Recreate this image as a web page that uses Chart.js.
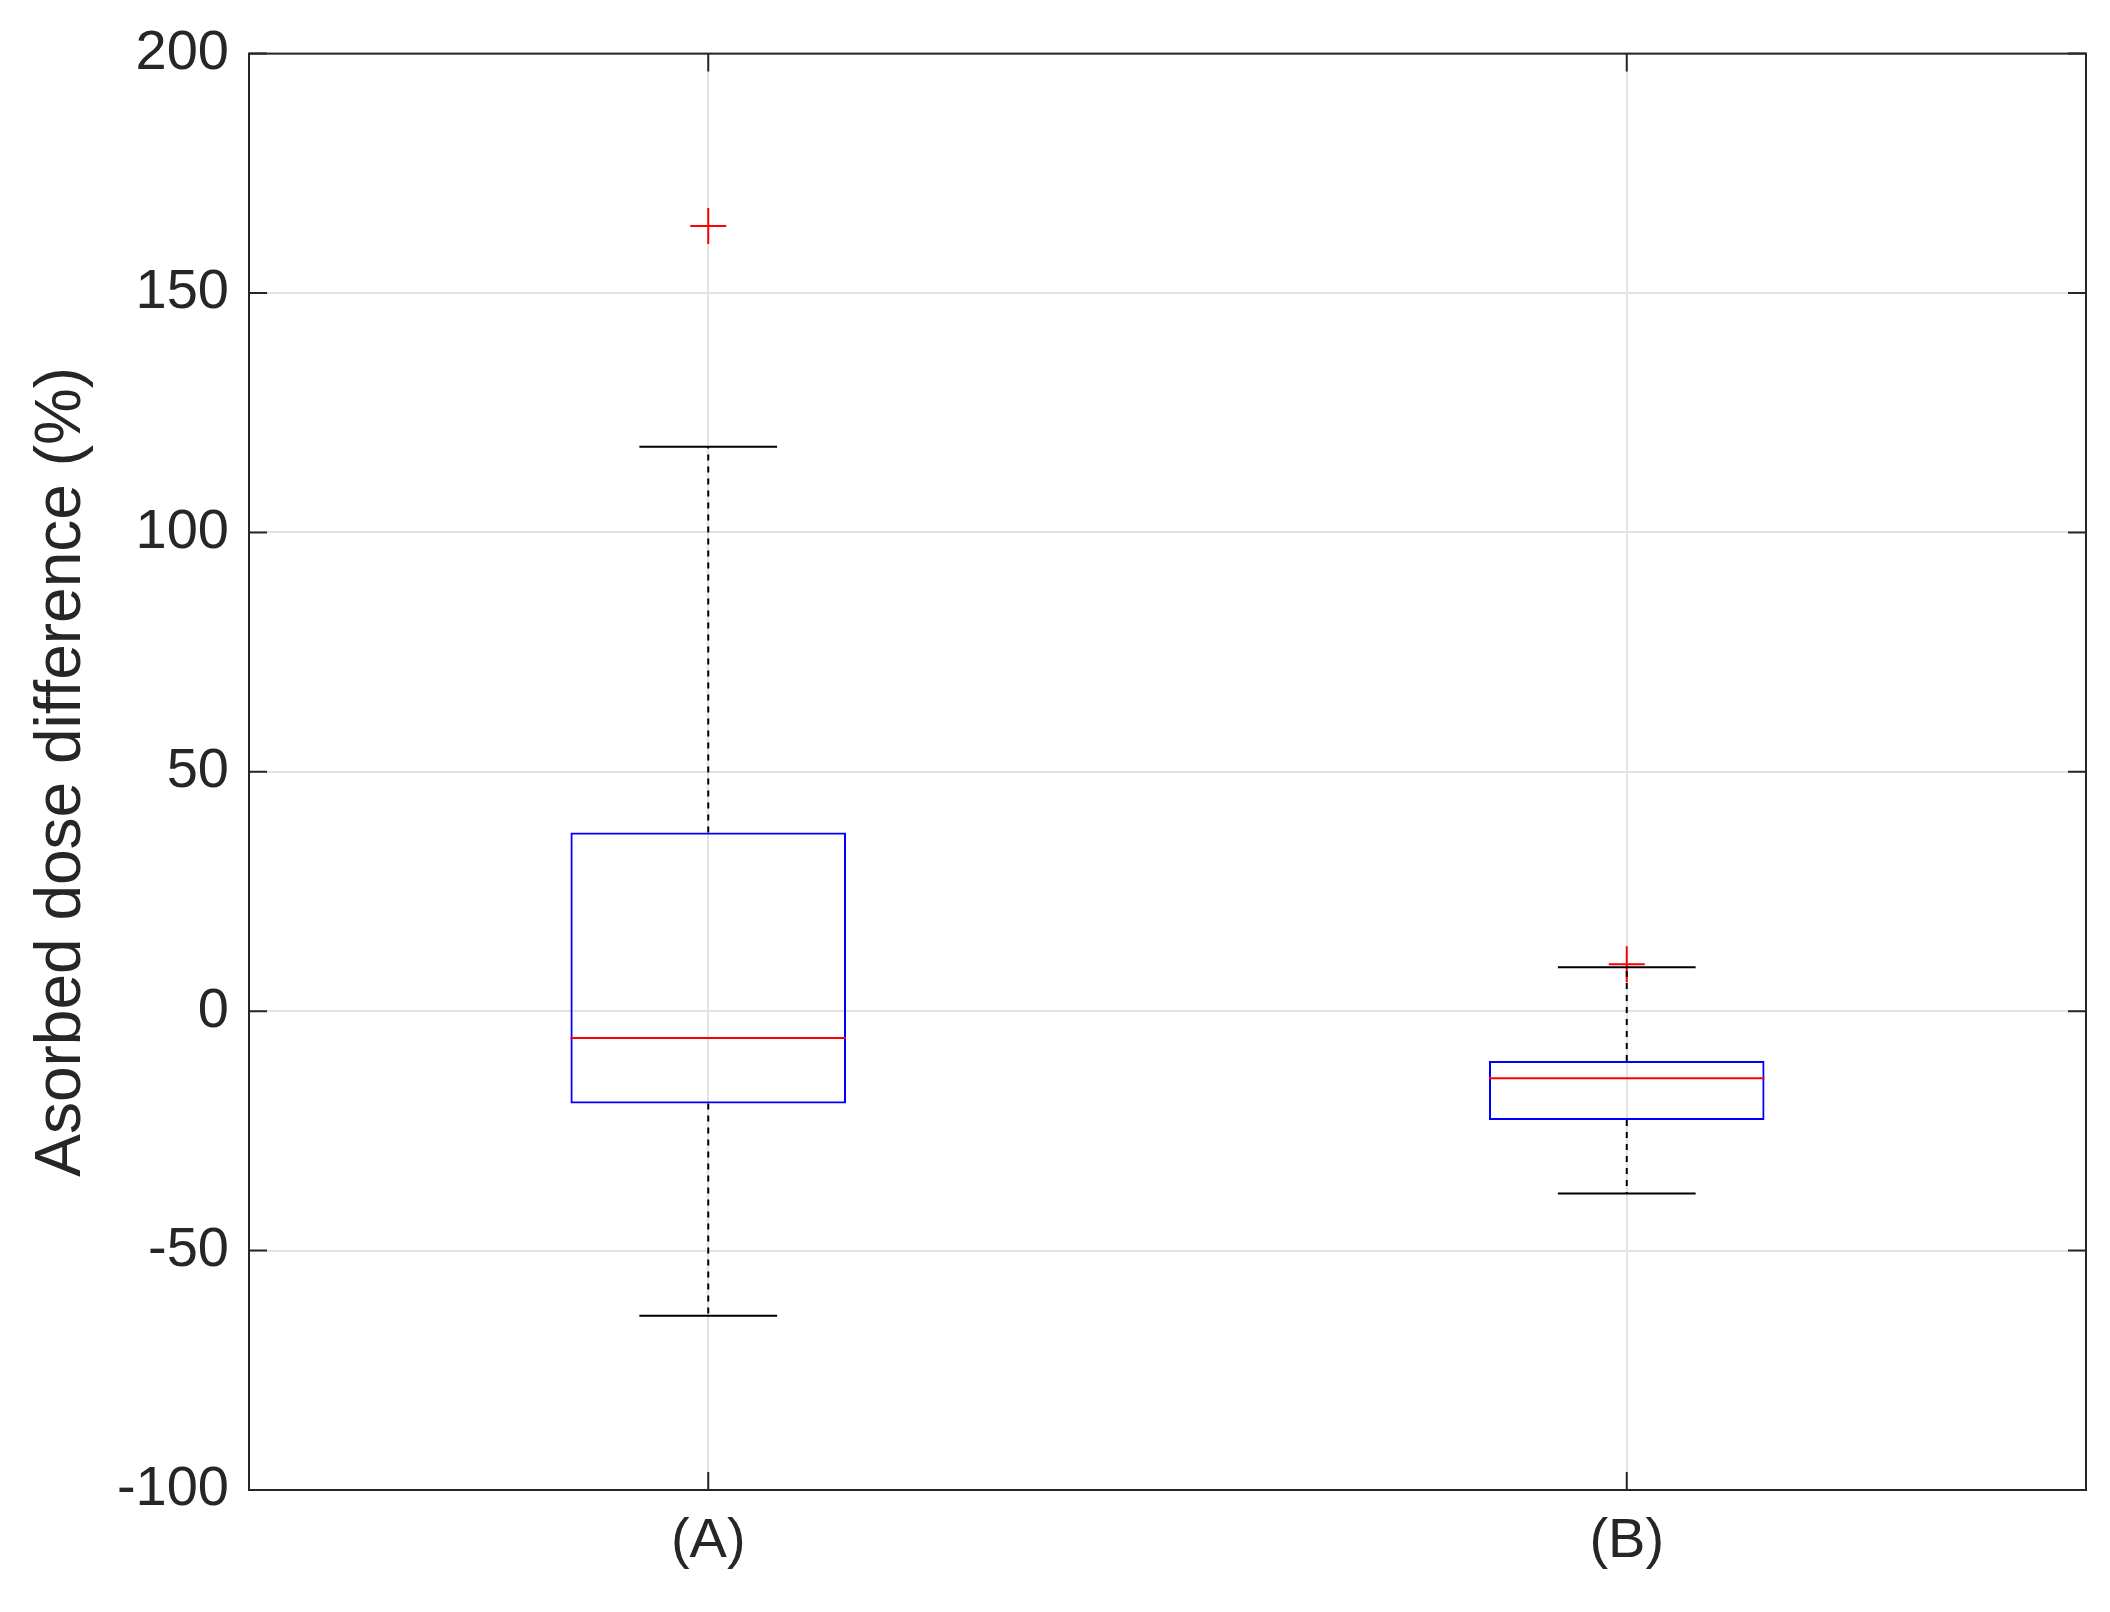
<!DOCTYPE html>
<html><head><meta charset="utf-8">
<script src="https://cdn.jsdelivr.net/npm/chart.js@4"></script>
<style>body{margin:0;background:#fff}</style>
</head><body>
<canvas id="c" width="2110" height="1612"></canvas>
<script>
// box plot values
const groups = ['(A)', '(B)'];
const q1 = [-19.3, -22.7];
const q3 = [37.3, -10.4];
const medians = [-5.6, -14.0];
const whiskLow = [-63.6, -38.1];
const whiskHigh = [117.9, 9.2];
const outliers = [{x: '(A)', y: 164}, {x: '(B)', y: 9.8}];
const yTicks = [-100, -50, 0, 50, 100, 150, 200];

// whiskers, caps, medians and frame
const boxParts = {
  id: 'boxParts',
  afterDatasetsDraw(chart) {
    const ctx = chart.ctx, xs = chart.scales.x, ys = chart.scales.y, a = chart.chartArea;
    const meta = chart.getDatasetMeta(0);
    ctx.save();
    groups.forEach((g, i) => {
      const x = xs.getPixelForValue(i);
      const half = meta.data[i].width / 2;
      ctx.strokeStyle = '#000'; ctx.lineWidth = 2;
      ctx.setLineDash([6, 6]);
      ctx.beginPath();
      ctx.moveTo(x, ys.getPixelForValue(q3[i])); ctx.lineTo(x, ys.getPixelForValue(whiskHigh[i]));
      ctx.moveTo(x, ys.getPixelForValue(q1[i])); ctx.lineTo(x, ys.getPixelForValue(whiskLow[i]));
      ctx.stroke();
      ctx.setLineDash([]);
      ctx.beginPath();
      [whiskHigh[i], whiskLow[i]].forEach(v => {
        const y = ys.getPixelForValue(v);
        ctx.moveTo(x - half / 2, y); ctx.lineTo(x + half / 2, y);
      });
      ctx.stroke();
      ctx.strokeStyle = '#ff0000';
      ctx.beginPath();
      const ym = ys.getPixelForValue(medians[i]);
      ctx.moveTo(x - half, ym); ctx.lineTo(x + half, ym);
      ctx.stroke();
    });
    ctx.strokeStyle = '#262626'; ctx.lineWidth = 2;
    ctx.strokeRect(a.left, a.top, a.right - a.left, a.bottom - a.top);
    // inner tick marks
    ctx.beginPath();
    yTicks.forEach(v => {
      const y = ys.getPixelForValue(v);
      ctx.moveTo(a.left, y); ctx.lineTo(a.left + 18, y);
      ctx.moveTo(a.right, y); ctx.lineTo(a.right - 18, y);
    });
    groups.forEach((g, i) => {
      const x = xs.getPixelForValue(i);
      ctx.moveTo(x, a.bottom); ctx.lineTo(x, a.bottom - 18);
      ctx.moveTo(x, a.top); ctx.lineTo(x, a.top + 18);
    });
    ctx.stroke();
    ctx.restore();
  }
};

new Chart(document.getElementById('c'), {
  type: 'bar',
  data: {
    labels: groups,
    datasets: [{
      data: groups.map((g, i) => [q1[i], q3[i]]),
      backgroundColor: 'rgba(0,0,0,0)',
      borderColor: '#0000ff',
      borderWidth: 2,
      borderSkipped: false,
      barPercentage: 0.3,
      categoryPercentage: 1
    }, {
      type: 'line',
      data: outliers,
      showLine: false,
      pointStyle: 'cross',
      pointRadius: 18,
      borderColor: '#ff0000',
      borderWidth: 2
    }]
  },
  options: {
    responsive: false,
    devicePixelRatio: 1,
    animation: false,
    layout: {padding: {top: 47, right: 24, left: 20}},
    plugins: {legend: {display: false}, tooltip: {enabled: false}},
    scales: {
      x: {
        grid: {color: '#e3e3e3', lineWidth: 2, drawTicks: false, offset: false},
        border: {display: false},
        ticks: {color: '#262626', font: {family: 'Liberation Sans', size: 56}, padding: 18},
        afterFit: s => { s.height = 122; }
      },
      y: {
        min: -100, max: 200,
        afterBuildTicks: s => { s.ticks = yTicks.map(v => ({value: v})); },
        grid: {color: '#e3e3e3', lineWidth: 2, drawTicks: false},
        border: {display: false},
        ticks: {color: '#262626', font: {family: 'Liberation Sans', size: 56}, padding: 20},
        title: {display: true, text: 'Asorbed dose difference (%)', color: '#262626',
                font: {family: 'Liberation Sans', size: 64}},
        afterFit: s => { s.width = 229; }
      }
    }
  },
  plugins: [boxParts]
});
</script>
</body></html>
